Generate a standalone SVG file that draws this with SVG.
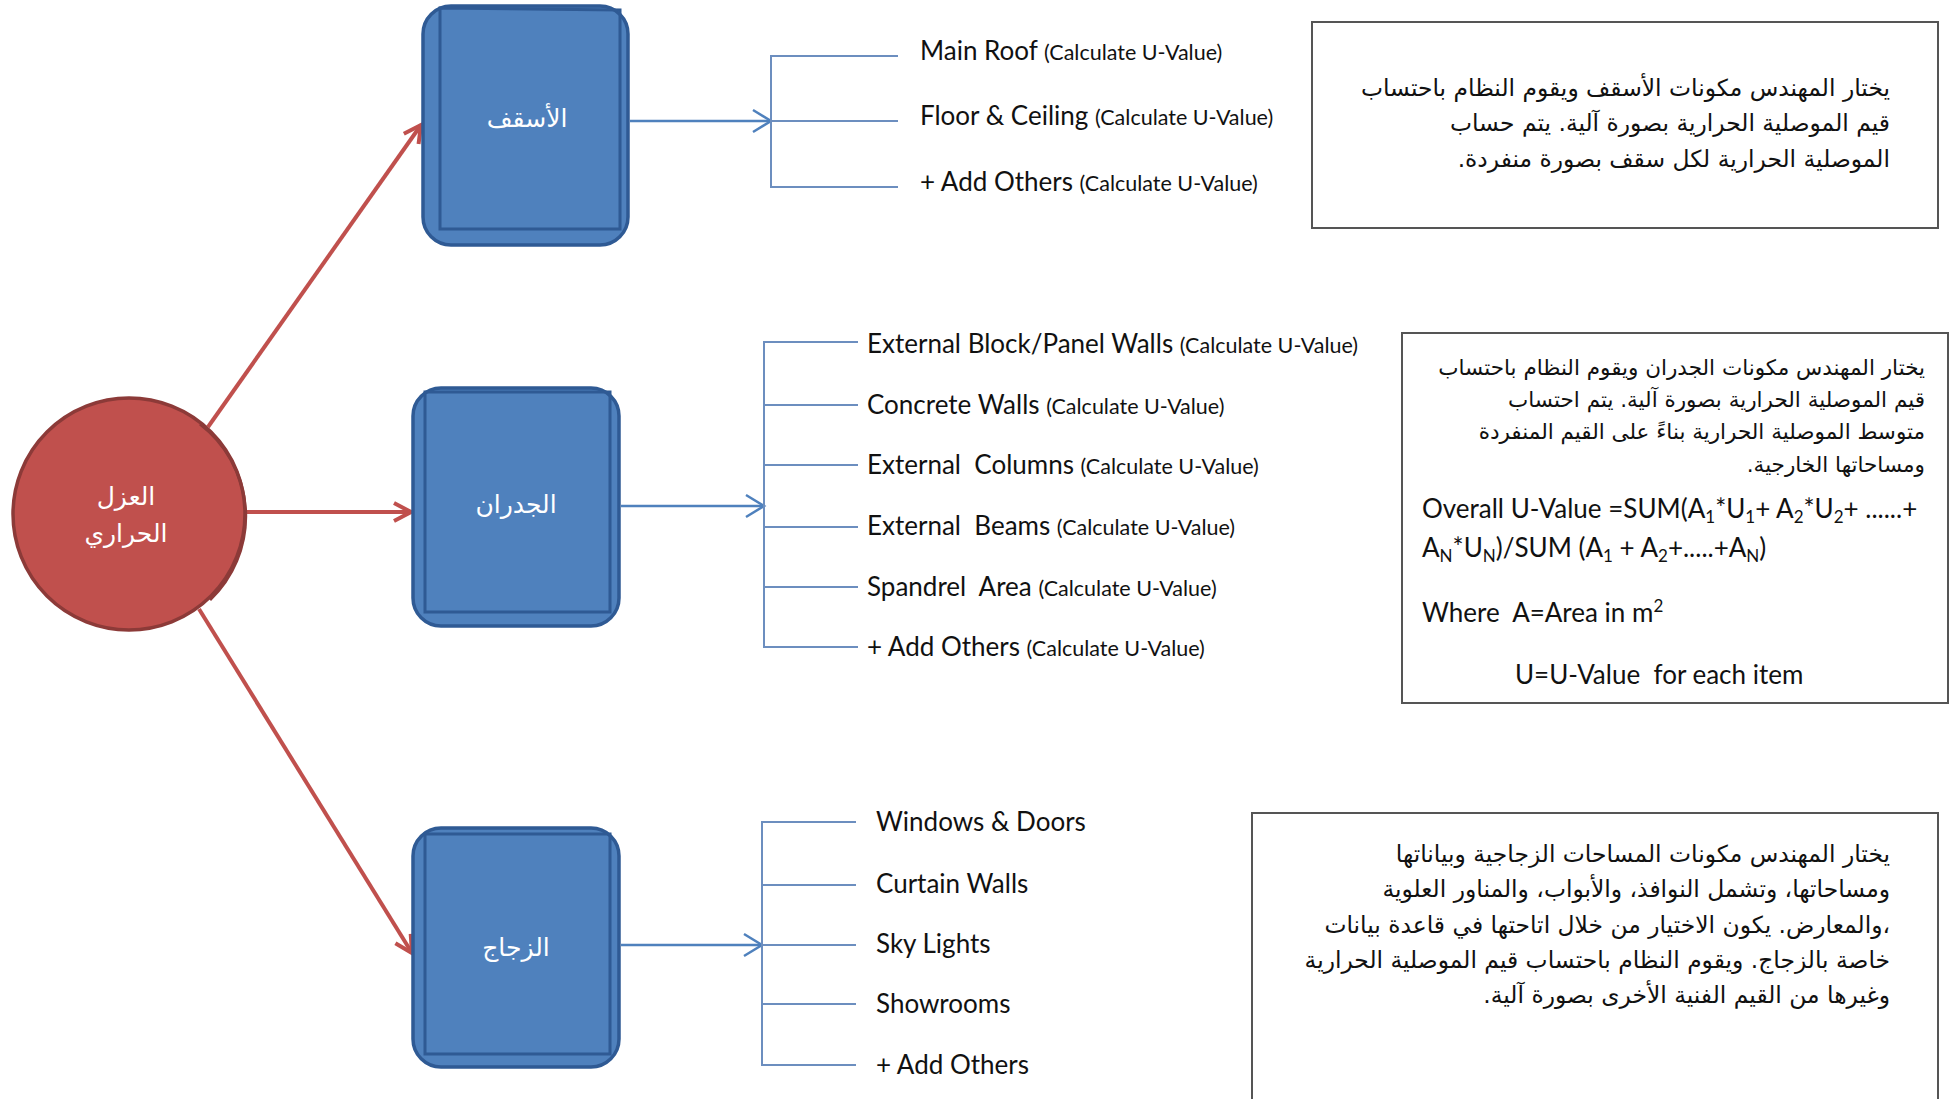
<svg xmlns="http://www.w3.org/2000/svg" width="1950" height="1099" viewBox="0 0 1950 1099">
<style>
.box{fill:#4F81BD;stroke:#2F5A94;stroke-width:3.5}
.inner{fill:none;stroke:#2F5A94;stroke-width:3}
.nodet{font-family:"DejaVu Sans",sans-serif;font-size:25px;fill:#ffffff;text-anchor:middle}
.red{stroke:#C0504D;stroke-width:4;fill:none}
.blue{stroke:#4F81BD;stroke-width:2.5;fill:none}
.br{stroke:#6C8EBF;stroke-width:2;fill:none}
.item{font-family:Lato,"Liberation Sans",sans-serif;font-size:26px;fill:#111}
.sub{font-size:21.5px}
.note{fill:#fff;stroke:#555;stroke-width:2}
.ar{font-family:"DejaVu Sans",sans-serif;font-size:23.4px;fill:#111}
.arw{font-size:21.5px}
.en{font-family:Lato,"Liberation Sans",sans-serif;font-size:26px;fill:#111}
.s{font-size:17px}
</style>
<defs>
<marker id="ra" markerUnits="userSpaceOnUse" markerWidth="24" markerHeight="24" viewBox="0 0 24 24" refX="21" refY="12" orient="auto">
<path d="M4,3 L21,12 L4,21" fill="none" stroke="#C0504D" stroke-width="4"/>
</marker>
<marker id="ba" markerUnits="userSpaceOnUse" markerWidth="24" markerHeight="28" viewBox="0 0 24 28" refX="21" refY="14" orient="auto">
<path d="M3,3 L21,14 L3,25" fill="none" stroke="#4F81BD" stroke-width="2.5"/>
</marker>
</defs>

<g id="connectors">
<line class="red" x1="208" y1="427" x2="421" y2="125" marker-end="url(#ra)"/>
<line class="red" x1="245" y1="512" x2="411" y2="512" marker-end="url(#ra)"/>
<line class="red" x1="199" y1="609" x2="412" y2="953" marker-end="url(#ra)"/>
<line class="blue" x1="630" y1="121" x2="771" y2="121" marker-end="url(#ba)"/>
<line class="blue" x1="621" y1="506" x2="764" y2="506" marker-end="url(#ba)"/>
<line class="blue" x1="621" y1="945" x2="762" y2="945" marker-end="url(#ba)"/>
<path class="br" d="M898,56 H771 V187 H898 M771,121 H898"/>
<path class="br" d="M858,342 H764 V647 H858 M764,405 H858 M764,465 H858 M764,527 H858 M764,587 H858"/>
<path class="br" d="M856,822 H762 V1065 H856 M762,885 H856 M762,945 H856 M762,1004 H856"/>
</g>

<g id="node-insulation">
<circle cx="129" cy="514" r="116" fill="#C0504D" stroke="#8C3A38" stroke-width="3.5"/>
<path d="M200,424 A116,116 0 0 1 210,600" fill="none" stroke="#8C3A38" stroke-width="3"/>
<text class="nodet" x="126" y="505">العزل</text>
<text class="nodet" x="126" y="542">الحراري</text>
</g>

<g id="node-roof">
<rect class="box" x="423" y="6" width="205" height="239" rx="28"/>
<path class="inner" d="M440,8 V229 H620 V10 Z"/>
<text class="nodet" x="527" y="127">الأسقف</text>
</g>

<g id="node-walls">
<rect class="box" x="413" y="388" width="206" height="238" rx="28"/>
<path class="inner" d="M425,392 V612 H610 V392 Z"/>
<text class="nodet" x="516" y="513">الجدران</text>
</g>

<g id="node-glass">
<rect class="box" x="413" y="828" width="206" height="239" rx="28"/>
<path class="inner" d="M425,834 V1054 H610 V834 Z"/>
<text class="nodet" x="516" y="956">الزجاج</text>
</g>

<g id="roof-items">
<text class="item" x="920" y="60">Main Roof <tspan class="sub">(Calculate U-Value)</tspan></text>
<text class="item" x="920" y="125">Floor &amp; Ceiling <tspan class="sub">(Calculate U-Value)</tspan></text>
<text class="item" x="920" y="191">+ Add Others <tspan class="sub">(Calculate U-Value)</tspan></text>
</g>

<g id="wall-items">
<text class="item" x="867" y="353">External Block/Panel Walls <tspan class="sub">(Calculate U-Value)</tspan></text>
<text class="item" x="867" y="414">Concrete Walls <tspan class="sub">(Calculate U-Value)</tspan></text>
<text class="item" x="867" y="474" xml:space="preserve">External  Columns <tspan class="sub">(Calculate U-Value)</tspan></text>
<text class="item" x="867" y="535" xml:space="preserve">External  Beams <tspan class="sub">(Calculate U-Value)</tspan></text>
<text class="item" x="867" y="596" xml:space="preserve">Spandrel  Area <tspan class="sub">(Calculate U-Value)</tspan></text>
<text class="item" x="867" y="656">+ Add Others <tspan class="sub">(Calculate U-Value)</tspan></text>
</g>

<g id="glass-items">
<text class="item" x="876" y="831">Windows &amp; Doors</text>
<text class="item" x="876" y="893">Curtain Walls</text>
<text class="item" x="876" y="953">Sky Lights</text>
<text class="item" x="876" y="1013">Showrooms</text>
<text class="item" x="876" y="1074">+ Add Others</text>
</g>

<g id="note-roof">
<rect class="note" x="1312" y="22" width="626" height="206"/>
<text class="ar" direction="rtl" x="1890" y="96">يختار المهندس مكونات الأسقف ويقوم النظام باحتساب</text>
<text class="ar" direction="rtl" x="1890" y="131">قيم الموصلية الحرارية بصورة آلية. يتم حساب</text>
<text class="ar" direction="rtl" x="1890" y="167">الموصلية الحرارية لكل سقف بصورة منفردة.</text>
</g>

<g id="note-walls">
<rect class="note" x="1402" y="333" width="546" height="370"/>
<text class="ar arw" direction="rtl" x="1925" y="375">يختار المهندس مكونات الجدران ويقوم النظام باحتساب</text>
<text class="ar arw" direction="rtl" x="1925" y="407">قيم الموصلية الحرارية بصورة آلية. يتم احتساب</text>
<text class="ar arw" direction="rtl" x="1925" y="439">متوسط الموصلية الحرارية بناءً على القيم المنفردة</text>
<text class="ar arw" direction="rtl" x="1925" y="472">ومساحاتها الخارجية.</text>
<text class="en" x="1422" y="518">Overall U-Value =SUM(A<tspan class="s" dy="5">1</tspan><tspan dy="-5">*U</tspan><tspan class="s" dy="5">1</tspan><tspan dy="-5">+ A</tspan><tspan class="s" dy="5">2</tspan><tspan dy="-5">*U</tspan><tspan class="s" dy="5">2</tspan><tspan dy="-5">+ ......+</tspan></text>
<text class="en" x="1422" y="557">A<tspan class="s" dy="5">N</tspan><tspan dy="-5">*U</tspan><tspan class="s" dy="5">N</tspan><tspan dy="-5">)/SUM (A</tspan><tspan class="s" dy="5">1</tspan><tspan dy="-5"> + A</tspan><tspan class="s" dy="5">2</tspan><tspan dy="-5">+.....+A</tspan><tspan class="s" dy="5">N</tspan><tspan dy="-5">)</tspan></text>
<text class="en" x="1422" y="622" xml:space="preserve">Where  A=Area in m<tspan class="s" dy="-10">2</tspan></text>
<text class="en" x="1515" y="684" xml:space="preserve">U=U-Value  for each item</text>
</g>

<g id="note-glass">
<rect class="note" x="1252" y="813" width="686" height="300"/>
<text class="ar" direction="rtl" x="1890" y="862">يختار المهندس مكونات المساحات الزجاجية وبياناتها</text>
<text class="ar" direction="rtl" x="1890" y="897">ومساحاتها، وتشمل النوافذ، والأبواب، والمناور العلوية</text>
<text class="ar" direction="rtl" x="1890" y="933">،والمعارض. يكون الاختيار من خلال اتاحتها في قاعدة بيانات</text>
<text class="ar" direction="rtl" x="1890" y="968">خاصة بالزجاج. ويقوم النظام باحتساب قيم الموصلية الحرارية</text>
<text class="ar" direction="rtl" x="1890" y="1003">وغيرها من القيم الفنية الأخرى بصورة آلية.</text>
</g>
</svg>
